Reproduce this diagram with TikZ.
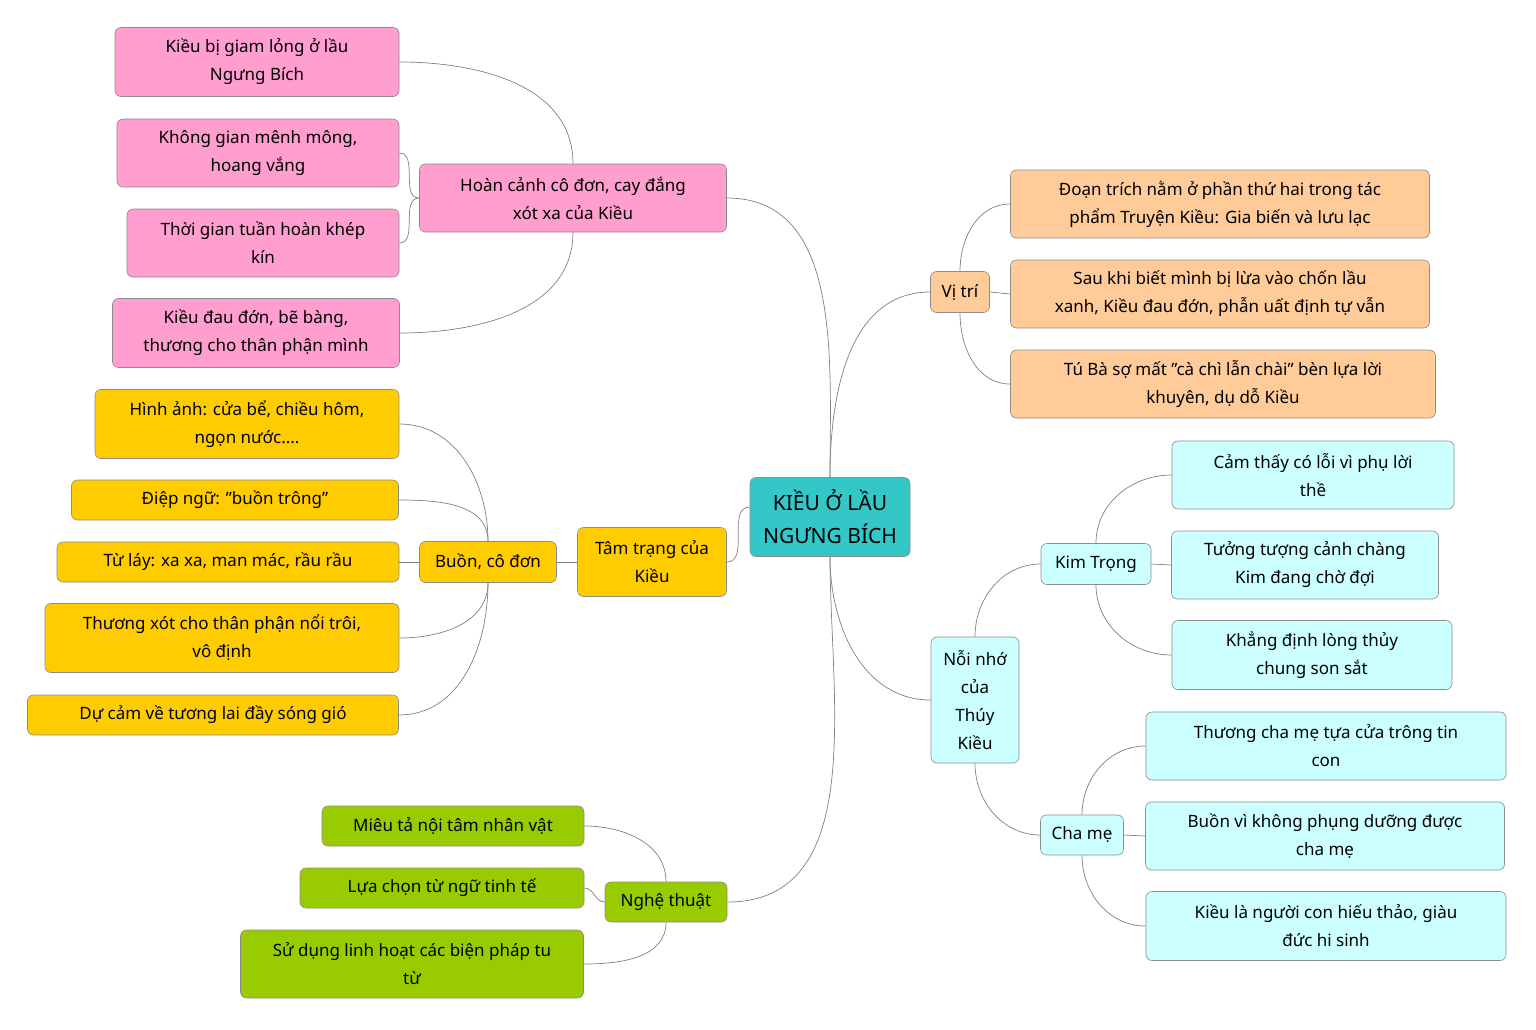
\documentclass[tikz,border=0pt]{standalone}
\usepackage{fontspec}
\setmainfont{Noto Sans}
\begin{document}
\begin{tikzpicture}[x=1pt,y=-1pt,
 box/.style={draw=black!45,line width=0.6pt,rounded corners=6pt,align=center,inner sep=2pt,
   font=\fontsize{17}{28}\selectfont\bfseries},
 pk/.style={box,fill=pink0}, yl/.style={box,fill=yel0}, gr/.style={box,fill=grn0},
 og/.style={box,fill=org0}, cy/.style={box,fill=cyn0},
 ln/.style={draw=black!50,line width=0.7pt}]
\definecolor{pink0}{HTML}{FF9ECF}\definecolor{yel0}{HTML}{FFCC00}\definecolor{grn0}{HTML}{99CC00}
\definecolor{org0}{HTML}{FFCC99}\definecolor{cyn0}{HTML}{CCFFFF}\definecolor{teal0}{HTML}{33C7C7}
\fill[white] (0,0) rectangle (1536,1029);
\useasboundingbox (0,0) rectangle (1536,1029);
\newcommand\bx[6]{\node[#2,minimum width=#4pt,minimum height=#5pt] (#1) at (#3) {#6};}
\node[box,fill=teal0,minimum width=160pt,minimum height=79pt,font=\fontsize{21}{33}\selectfont\bfseries] (root) at (830,517) {KIỀU Ở LẦU\\NGƯNG BÍCH};
\bx{hc}{pk}{573,198}{307}{68}{Hoàn cảnh cô đơn, cay đắng\\xót xa của Kiều}
\bx{p1}{pk}{257,62}{284}{69}{Kiều bị giam lỏng ở lầu\\Ngưng Bích}
\bx{p2}{pk}{258,153}{282}{68}{Không gian mênh mông,\\hoang vắng}
\bx{p3}{pk}{263,243}{272}{68}{Thời gian tuần hoàn khép\\kín}
\bx{p4}{pk}{256,333}{287}{69}{Kiều đau đớn, bẽ bàng,\\thương cho thân phận mình}
\bx{tt}{yl}{652,562}{149}{69}{Tâm trạng của\\Kiều}
\bx{bcd}{yl}{488,562}{137}{41}{Buồn, cô đơn}
\bx{y1}{yl}{247,424}{304}{69}{Hình ảnh: cửa bể, chiều hôm,\\ngọn nước....}
\bx{y2}{yl}{235,500}{327}{40}{Điệp ngữ: "buồn trông"}
\bx{y3}{yl}{228,562}{342}{40}{Từ láy: xa xa, man mác, rầu rầu}
\bx{y4}{yl}{222,638}{354}{69}{Thương xót cho thân phận nổi trôi,\\vô định}
\bx{y5}{yl}{213,715}{371}{40}{Dự cảm về tương lai đầy sóng gió}
\bx{nt}{gr}{666,902}{122}{40}{Nghệ thuật}
\bx{g1}{gr}{453,826}{262}{40}{Miêu tả nội tâm nhân vật}
\bx{g2}{gr}{442,888}{284}{40}{Lựa chọn từ ngữ tinh tế}
\bx{g3}{gr}{412,964}{343}{68}{Sử dụng linh hoạt các biện pháp tu\\từ}
\bx{vt}{og}{960,292}{59}{41}{Vị trí}
\bx{o1}{og}{1220,204}{419}{68}{Đoạn trích nằm ở phần thứ hai trong tác\\phẩm Truyện Kiều: Gia biến và lưu lạc}
\bx{o2}{og}{1220,294}{419}{68}{Sau khi biết mình bị lừa vào chốn lầu\\xanh, Kiều đau đớn, phẫn uất định tự vẫn}
\bx{o3}{og}{1223,384}{425}{68}{Tú Bà sợ mất "cà chì lẫn chài" bèn lựa lời\\khuyên, dụ dỗ Kiều}
\bx{nn}{cy}{975,700}{88}{126}{Nỗi nhớ\\của\\Thúy\\Kiều}
\bx{kt}{cy}{1096,564}{110}{41}{Kim Trọng}
\bx{c1}{cy}{1313,475}{282}{68}{Cảm thấy có lỗi vì phụ lời\\thề}
\bx{c2}{cy}{1305,565}{267}{68}{Tưởng tượng cảnh chàng\\Kim đang chờ đợi}
\bx{c3}{cy}{1312,655}{280}{69}{Khẳng định lòng thủy\\chung son sắt}
\bx{cm}{cy}{1082,835}{83}{40}{Cha mẹ}
\bx{c4}{cy}{1326,746}{360}{68}{Thương cha mẹ tựa cửa trông tin\\con}
\bx{c5}{cy}{1325,836}{359}{68}{Buồn vì không phụng dưỡng được\\cha mẹ}
\bx{c6}{cy}{1326,926}{360}{69}{Kiều là người con hiếu thảo, giàu\\đức hi sinh}
\begin{scope}[ln]
\draw (root.north) to[out=90,in=0] (hc.east);
\draw (root.north) to[out=90,in=180] (vt.west);
\draw ([yshift=10pt]root.west) to[out=180,in=0] (tt.east);
\draw (root.south) to[out=-90,in=0] (nt.east);
\draw (root.south) to[out=-90,in=180] (nn.west);
\draw (hc.north) to[out=90,in=0] (p1.east);
\draw (hc.west) to[out=180,in=0] (p2.east);
\draw (hc.west) to[out=180,in=0] (p3.east);
\draw (hc.south) to[out=-90,in=0] (p4.east);
\draw (tt.west) -- (bcd.east);
\draw (bcd.north) to[out=90,in=0] (y1.east);
\draw (bcd.north) to[out=90,in=0] (y2.east);
\draw (bcd.west) -- (y3.east);
\draw (bcd.south) to[out=-90,in=0] (y4.east);
\draw (bcd.south) to[out=-90,in=0] (y5.east);
\draw (nt.north) to[out=90,in=0] (g1.east);
\draw (nt.west) to[out=180,in=0] (g2.east);
\draw (nt.south) to[out=-90,in=0] (g3.east);
\draw (vt.north) to[out=90,in=180] (o1.west);
\draw (vt.east) -- (o2.west);
\draw (vt.south) to[out=-90,in=180] (o3.west);
\draw (nn.north) to[out=90,in=180] (kt.west);
\draw (nn.south) to[out=-90,in=180] (cm.west);
\draw (kt.north) to[out=90,in=180] (c1.west);
\draw (kt.east) -- (c2.west);
\draw (kt.south) to[out=-90,in=180] (c3.west);
\draw (cm.north) to[out=90,in=180] (c4.west);
\draw (cm.east) -- (c5.west);
\draw (cm.south) to[out=-90,in=180] (c6.west);
\end{scope}
\end{tikzpicture}
\end{document}
